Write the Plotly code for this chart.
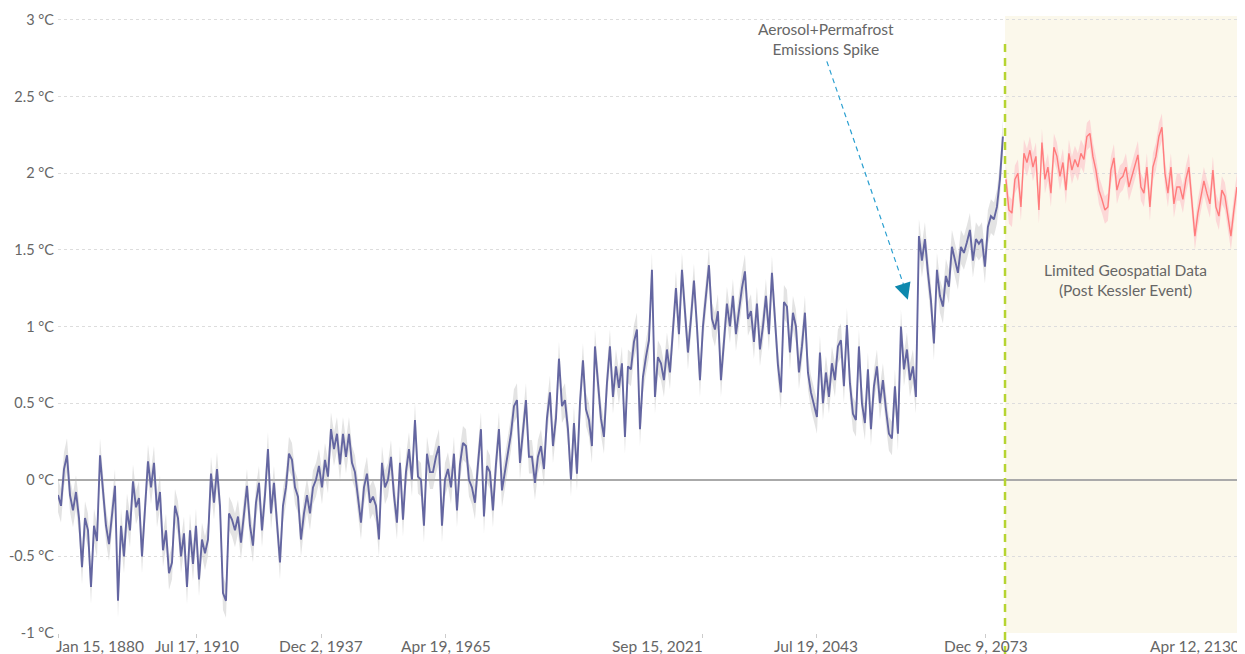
import plotly.graph_objects as go

# ---------------- data ----------------
historic_anomaly = [
    -0.10, -0.17, 0.07, 0.16, -0.10, -0.20, -0.08, -0.25, -0.57, -0.25,
    -0.33, -0.70, -0.30, -0.40, 0.16, -0.07, -0.30, -0.42, -0.25, -0.04,
    -0.79, -0.30, -0.50, -0.20, -0.33, -0.01, -0.18, -0.12, -0.50, -0.15,
    0.12, -0.05, 0.11, -0.20, -0.08, -0.46, -0.33, -0.61, -0.54, -0.17,
    -0.25, -0.50, -0.35, -0.70, -0.33, -0.55, -0.30, -0.65, -0.39, -0.48,
    -0.39, 0.04, -0.15, 0.07, -0.17, -0.74, -0.79, -0.22, -0.26, -0.33,
    -0.24, -0.41, -0.20, -0.04, -0.30, -0.43, -0.15, -0.02, -0.33, -0.10,
    0.20, -0.22, -0.02, -0.30, -0.54, -0.17, -0.05, 0.17, 0.13, -0.05,
    -0.11, -0.39, -0.22, -0.10, -0.22, -0.05, 0.00, 0.09, -0.05, 0.13,
    0.02, 0.33, 0.20, 0.30, 0.10, 0.30, 0.15, 0.30, 0.11, 0.05,
    -0.10, -0.28, -0.05, 0.04, -0.15, -0.11, -0.17, -0.39, 0.11, -0.05,
    0.00, 0.15, -0.10, -0.28, 0.11, -0.26, 0.05, 0.20, 0.00, 0.39,
    0.02, 0.00, -0.30, 0.17, 0.05, 0.05, 0.15, 0.22, -0.30, 0.00,
    0.07, -0.05, 0.17, -0.20, 0.10, 0.24, 0.22, 0.00, -0.05, -0.15,
    0.10, 0.33, -0.24, 0.09, 0.05, -0.20, 0.10, 0.33, -0.07, 0.05,
    0.17, 0.30, 0.48, 0.52, 0.11, 0.30, 0.52, 0.15, 0.15, -0.02,
    0.15, 0.22, 0.07, 0.40, 0.57, 0.22, 0.40, 0.79, 0.48, 0.52,
    0.33, 0.00, 0.37, 0.04, 0.50, 0.78, 0.46, 0.39, 0.22, 0.87,
    0.65, 0.40, 0.28, 0.63, 0.87, 0.54, 0.74, 0.60, 0.76, 0.28,
    0.74, 0.72, 0.90, 0.98, 0.33, 0.67, 0.80, 0.91, 1.37, 0.54,
    0.80, 0.76, 0.65, 0.85, 0.70, 1.00, 1.25, 0.95, 1.37, 1.10,
    0.83, 1.05, 1.30, 1.00, 0.65, 1.00, 1.20, 1.40, 1.05, 0.98,
    1.10, 0.65, 0.90, 1.15, 1.00, 1.20, 0.95, 1.10, 1.25, 1.36,
    1.05, 1.10, 0.90, 1.15, 0.85, 1.00, 1.20, 0.95, 1.35, 1.05,
    0.75, 0.57, 1.16, 1.13, 0.83, 1.09, 1.00, 0.70, 0.87, 1.09,
    0.70, 0.57, 0.48, 0.41, 0.83, 0.50, 0.70, 0.54, 0.76, 0.65,
    0.87, 0.91, 0.61, 1.01, 0.63, 0.43, 0.39, 0.87, 0.50, 0.37,
    0.72, 0.33, 0.61, 0.74, 0.50, 0.65, 0.46, 0.30, 0.27, 0.61,
    0.30, 1.00, 0.72, 0.85, 0.65, 0.74, 0.54, 1.59, 1.43, 1.57,
    1.35, 1.17, 0.89, 1.37, 1.20, 1.13, 1.33, 1.26, 1.52, 1.43,
    1.35, 1.52, 1.48, 1.55, 1.63, 1.43, 1.57, 1.54, 1.57, 1.39,
    1.65, 1.72, 1.70, 1.78, 1.96, 2.24,
]

projected_anomaly = [
    1.96, 1.76, 1.74, 1.96, 2.00, 1.78, 2.13, 2.07, 2.15, 2.04,
    2.11, 1.76, 2.20, 1.96, 2.04, 1.87, 2.17, 2.11, 1.98, 2.07,
    1.89, 2.13, 2.02, 2.09, 2.04, 2.13, 2.09, 2.24, 2.26, 2.11,
    2.02, 1.89, 1.83, 1.76, 1.78, 2.02, 2.10, 1.89, 1.96, 1.98,
    2.04, 1.91, 1.98, 2.05, 2.12, 1.91, 1.87, 2.04, 1.78, 2.04,
    2.11, 2.24, 2.30, 2.00, 1.87, 2.04, 1.80, 1.91, 1.91, 1.83,
    1.96, 2.04, 1.80, 1.59, 1.74, 1.85, 1.95, 1.87, 1.80, 2.02,
    1.78, 1.72, 1.89, 1.85, 1.72, 1.59, 1.76, 1.91,
]

historic_uncertainty = 0.11
projected_uncertainty = 0.09

# tick labels on the (index-based) time axis
date_tick_index = [0, 46.3, 87.7, 129.3, 215, 252.7, 309.3, 394]
date_tick_labels = ["Jan 15, 1880", "Jul 17, 1910", "Dec 2, 1937", "Apr 19, 1965",
                    "Sep 15, 2021", "Jul 19, 2043", "Dec 9, 2073", "Apr 12, 2130"]
date_label_anchor = ["left", "center", "center", "center",
                     "right", "center", "center", "right"]

temp_ticks = [-1, -0.5, 0, 0.5, 1, 1.5, 2, 2.5, 3]
temp_tick_labels = ["-1 °C", "-0.5 °C", "0 °C", "0.5 °C", "1 °C",
                    "1.5 °C", "2 °C", "2.5 °C", "3 °C"]

kessler_event_index = 315.7
spike_annotation_text = "Aerosol+Permafrost<br>Emissions Spike"
spike_text_pos = (256, 2.878)
spike_arrow_tail = (256.3, 2.73)
spike_arrow_head = (283.3, 1.175)
region_text = "Limited Geospatial Data<br>(Post Kessler Event)"
region_text_pos = (355.7, 1.305)

# ---------------- figure ----------------
hist_x = list(range(len(historic_anomaly)))
proj_x = [len(historic_anomaly) + k for k in range(len(projected_anomaly))]

FONT = "Lato, 'Open Sans', sans-serif"
FS = 15.5
fig = go.Figure()

# uncertainty bands
fig.add_trace(go.Scatter(x=hist_x, y=[v + historic_uncertainty for v in historic_anomaly],
                         mode="lines", line=dict(width=0), hoverinfo="skip", showlegend=False))
fig.add_trace(go.Scatter(x=hist_x, y=[v - historic_uncertainty for v in historic_anomaly],
                         mode="lines", line=dict(width=0), fill="tonexty",
                         fillcolor="rgba(185,185,185,0.40)", hoverinfo="skip", showlegend=False))
fig.add_trace(go.Scatter(x=proj_x, y=[v + projected_uncertainty for v in projected_anomaly],
                         mode="lines", line=dict(width=0), hoverinfo="skip", showlegend=False))
fig.add_trace(go.Scatter(x=proj_x, y=[v - projected_uncertainty for v in projected_anomaly],
                         mode="lines", line=dict(width=0), fill="tonexty",
                         fillcolor="rgba(255,150,175,0.32)", hoverinfo="skip", showlegend=False))

# series lines
fig.add_trace(go.Scatter(x=hist_x, y=historic_anomaly, mode="lines",
                         line=dict(color="#6466a1", width=1.9), showlegend=False))
fig.add_trace(go.Scatter(x=proj_x, y=projected_anomaly, mode="lines",
                         line=dict(color="#ff7c7c", width=1.4), showlegend=False))

# shaded post-event region
fig.add_shape(type="rect", xref="x", yref="paper", x0=kessler_event_index, x1=395.7,
              y0=0, y1=1, fillcolor="#fbf8eb", line=dict(width=0), layer="below")
# event divider
fig.add_shape(type="line", xref="x", yref="paper", x0=kessler_event_index, x1=kessler_event_index,
              y0=-0.034, y1=0.964, line=dict(color="#b6d431", width=2.5, dash="8px,6px"))
# dashed arrow shaft
fig.add_shape(type="line", xref="x", yref="y",
              x0=spike_arrow_tail[0], y0=spike_arrow_tail[1],
              x1=spike_arrow_head[0] - 1.2, y1=spike_arrow_head[1] + 0.085,
              line=dict(color="#2a9fd0", width=1.2, dash="5px,4px"))
# arrow head
fig.add_annotation(x=spike_arrow_head[0], y=spike_arrow_head[1], xref="x", yref="y",
                   ax=-4, ay=-12, text="", showarrow=True, arrowhead=2,
                   arrowsize=2.2, arrowwidth=1.5, arrowcolor="#0d88ad")
fig.add_annotation(x=spike_text_pos[0], y=spike_text_pos[1], xref="x", yref="y",
                   text=spike_annotation_text, showarrow=False,
                   font=dict(family=FONT, size=FS, color="#666666"))
fig.add_annotation(x=region_text_pos[0], y=region_text_pos[1], xref="x", yref="y",
                   text=region_text, showarrow=False,
                   font=dict(family=FONT, size=FS, color="#666666"))

# x tick labels
label_shift = {"left": -4, "center": 0, "right": 2}
for xv, lab, anc in zip(date_tick_index, date_tick_labels, date_label_anchor):
    fig.add_annotation(x=xv, y=0, xref="x", yref="paper", text=lab, showarrow=False,
                       xanchor=anc, yanchor="top", yshift=-2, xshift=label_shift[anc],
                       font=dict(family=FONT, size=FS, color="#666666"))

# the page adds an 8px body margin, so the figure is sized to fill the rest of the window
fig.update_layout(
    width=1237, height=646,
    margin=dict(l=50, r=0, t=8, b=21),
    paper_bgcolor="white", plot_bgcolor="white",
    font=dict(family=FONT, size=FS, color="#666666"),
    showlegend=False,
)
fig.update_xaxes(range=[0, 395.7], tickvals=date_tick_index, automargin=False,
                 ticktext=[""] * len(date_tick_index), ticks="outside", ticklen=4,
                 tickcolor="#cccccc", showgrid=False, zeroline=False, showline=False)
fig.update_yaxes(range=[-1, 3.026], tickvals=temp_ticks, ticktext=temp_tick_labels,
                 automargin=False,
                 showgrid=True, gridcolor="#dddddd", griddash="3px,3px", gridwidth=1,
                 zeroline=True, zerolinecolor="#aaaaaa", zerolinewidth=1.5,
                 ticks="", ticklabelstandoff=3, showline=False,
                 tickfont=dict(family=FONT, size=14.5, color="#666666"))

fig.write_html("out.html")
